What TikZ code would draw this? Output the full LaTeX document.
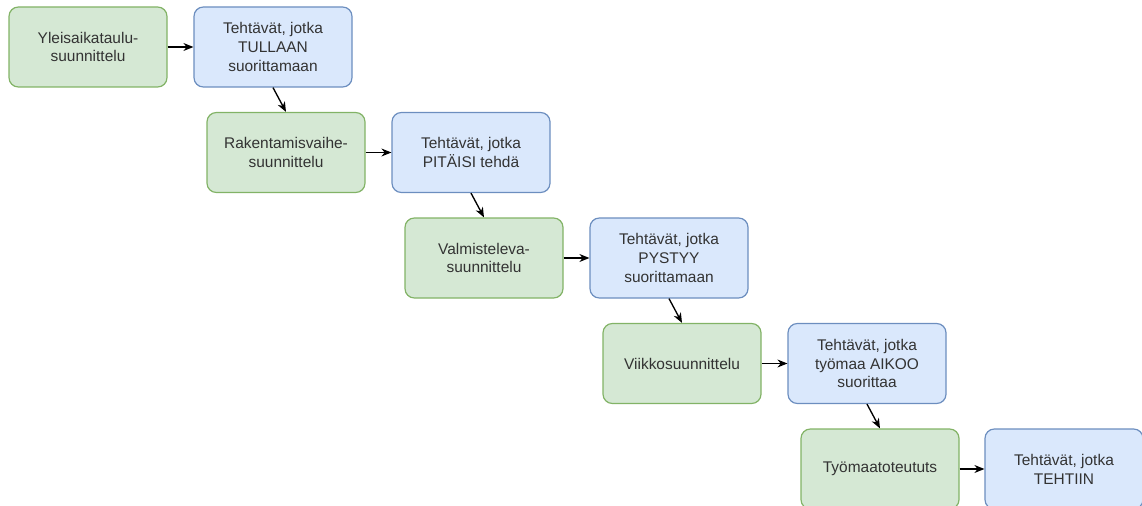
\documentclass[tikz,border=0pt]{standalone}
\usepackage{fontspec}
\setmainfont{Liberation Sans}
\usetikzlibrary{arrows.meta}
\definecolor{vihrea}{HTML}{D5E8D4}
\definecolor{vihreareuna}{HTML}{82B366}
\definecolor{sininen}{HTML}{DAE8FC}
\definecolor{sininenreuna}{HTML}{6C8EBF}
\definecolor{teksti}{HTML}{333333}
\begin{document}
\begin{tikzpicture}[x=0.75pt,y=-0.75pt,>={Stealth[length=7.5pt,width=6pt]},
		font=\fontsize{11.6}{14.2}\selectfont]
		\tikzset{laatikko/.style={rounded corners=7pt,line width=0.9pt,minimum width=118.5pt,
				minimum height=60pt,align=center,text=teksti,inner sep=2pt},
			suunnittelu/.style={laatikko,fill=vihrea,draw=vihreareuna},
			tehtavat/.style={laatikko,fill=sininen,draw=sininenreuna},
			nuoli/.style={->,line width=1pt}}
		\useasboundingbox (0,0) rectangle (1142,506);
		%--------- Suunnittelutasot
		\node[suunnittelu] (s1) at (88,47) {Yleisaikataulu-\\suunnittelu};
		\node[suunnittelu] (s2) at (286,152.5) {Rakentamisvaihe-\\suunnittelu};
		\node[suunnittelu] (s3) at (484,258) {Valmisteleva-\\suunnittelu};
		\node[suunnittelu] (s4) at (682,363.5) {Viikkosuunnittelu};
		\node[suunnittelu] (s5) at (880,469) {Työmaatoteututs};
		%--------- Tehtävät
		\node[tehtavat] (t1) at (273,47) {Tehtävät, jotka\\TULLAAN\\suorittamaan};
		\node[tehtavat] (t2) at (471,152.5) {Tehtävät, jotka\\PITÄISI tehdä};
		\node[tehtavat] (t3) at (669,258) {Tehtävät, jotka\\PYSTYY\\suorittamaan};
		\node[tehtavat] (t4) at (867,363.5) {Tehtävät, jotka\\työmaa AIKOO\\suorittaa};
		\node[tehtavat] (t5) at (1064,469) {Tehtävät, jotka\\TEHTIIN};
		%--------- Nuolet
		\foreach \i in {1,...,5} \draw[nuoli] (s\i) -- (t\i);
		\foreach \i/\j in {1/2,2/3,3/4,4/5} \draw[nuoli] (t\i.south) -- (s\j.north);
	\end{tikzpicture}
\end{document}
